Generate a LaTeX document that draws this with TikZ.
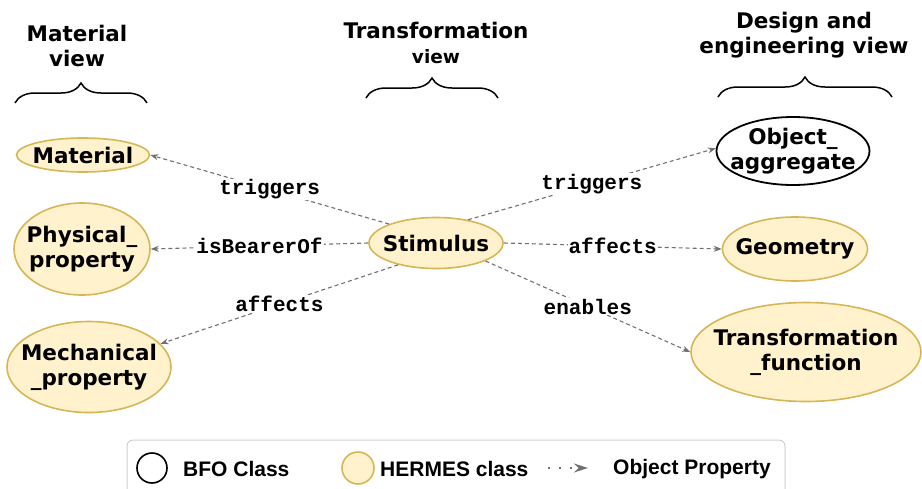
\documentclass[tikz,border=0pt]{standalone}
\usepackage{fontspec}
\setmainfont{DejaVu Sans}
\newfontfamily\propfont{Liberation Mono}
\newfontfamily\legendfont{Liberation Sans}
\usetikzlibrary{shapes.geometric}
\usetikzlibrary{arrows.meta}
\usetikzlibrary{decorations.pathreplacing}

\definecolor{hermesfill}{HTML}{FFF2CC}
\definecolor{hermesdraw}{HTML}{D6B656}
\definecolor{propgray}{HTML}{707070}
\definecolor{legendgray}{HTML}{D0D0D0}

\tikzset{
  classtext/.style={align=center,inner sep=0pt,font=\fontsize{21.5}{25}\selectfont\bfseries},
  classnode/.style={ellipse,inner sep=0pt},
  hermes/.style={classnode,draw=hermesdraw,fill=hermesfill,line width=1.6pt},
  bfo/.style={classnode,draw=black,fill=white,line width=1.8pt},
  objprop/.style={draw=propgray,dash pattern=on 4pt off 3pt,line width=1.1pt,-{Stealth[length=8pt,width=6pt]}},
  proplabel/.style={midway,fill=white,inner sep=1pt,font=\fontsize{21}{21}\selectfont\propfont\bfseries},
  viewbrace/.style={decorate,decoration={brace,amplitude=20pt},line width=1.5pt},
  viewtitle/.style={align=center,font=\fontsize{21.5}{25}\selectfont\bfseries},
  legendtext/.style={anchor=west,inner sep=0pt,font=\fontsize{21}{24}\selectfont\legendfont\bfseries}
}

\begin{document}
\begin{tikzpicture}[x=1pt,y=-1pt]
\useasboundingbox (0,0) rectangle (922,488);
\clip (0,0) rectangle (922,488);

% view titles and braces
\node[viewtitle] (matview) at (77,46) {Material\\view};
\node[viewtitle] (trview) at (436,43) {Transformation\\{\fontsize{18.5}{20}\selectfont view}};
\node[viewtitle] (desview) at (804,35) {Design and\\engineering view};
\draw[viewbrace] (15,103) -- (147,103);
\draw[viewbrace] (366,98) -- (498,98);
\draw[viewbrace] (718,97) -- (892,97);

% classes
\node[hermes,minimum width=133pt,minimum height=34pt,label={[classtext]center:Material}] (mat) at (83,155) {};
\node[hermes,minimum width=136pt,minimum height=92pt,label={[classtext]center:{Physical\_\\property}}] (phys) at (82,249) {};
\node[hermes,minimum width=164pt,minimum height=91pt,label={[classtext]center:{Mechanical\\\_property}}] (mech) at (89,367) {};
\node[hermes,minimum width=134pt,minimum height=51pt,label={[classtext]center:Stimulus}] (stim) at (436,243) {};
\node[bfo,minimum width=153pt,minimum height=68pt,label={[classtext]center:{Object\_\\aggregate}}] (objagg) at (793,151) {};
\node[hermes,minimum width=145pt,minimum height=64pt,label={[classtext]center:Geometry}] (geom) at (795,249) {};
\node[hermes,minimum width=230pt,minimum height=99pt,label={[classtext]center:{Transformation\\\_function}}] (transfn) at (806,352) {};

% object properties
\draw[objprop] (stim.158) -- (mat.east) node[proplabel] {triggers};
\draw[objprop] (stim.west) -- (phys.east) node[proplabel] {isBearerOf};
\draw[objprop] (stim.210) -- (mech.18) node[proplabel] {affects};
\draw[objprop] (stim.36) -- (objagg.178) node[proplabel] {triggers};
\draw[objprop] (stim.east) -- (geom.west) node[proplabel] {affects};
\draw[objprop] (stim.340) -- (transfn.west) node[proplabel] {enables};

% legend
\draw[legendgray,line width=1pt,rounded corners=6pt] (127,440) rectangle (785,500);
\node[circle,draw=black,fill=white,line width=1.6pt,minimum size=30pt,inner sep=0pt] (legbfo) at (152,468) {};
\node[legendtext] (legbfotext) at (183,469) {BFO Class};
\node[circle,draw=hermesdraw,fill=hermesfill,line width=1.6pt,minimum size=32pt,inner sep=0pt] (leghermes) at (358,468) {};
\node[legendtext] (leghermestext) at (380,469) {HERMES class};
\coordinate (legfrom) at (548,468);
\coordinate (legto) at (588,468);
\draw[propgray,line width=1.4pt,dash pattern=on 1.5pt off 9.5pt,-{Stealth[length=14pt,width=9pt]}] (legfrom) -- (legto);
\node[legendtext] (legproptext) at (613,469) {Object Property};

\end{tikzpicture}
\end{document}
